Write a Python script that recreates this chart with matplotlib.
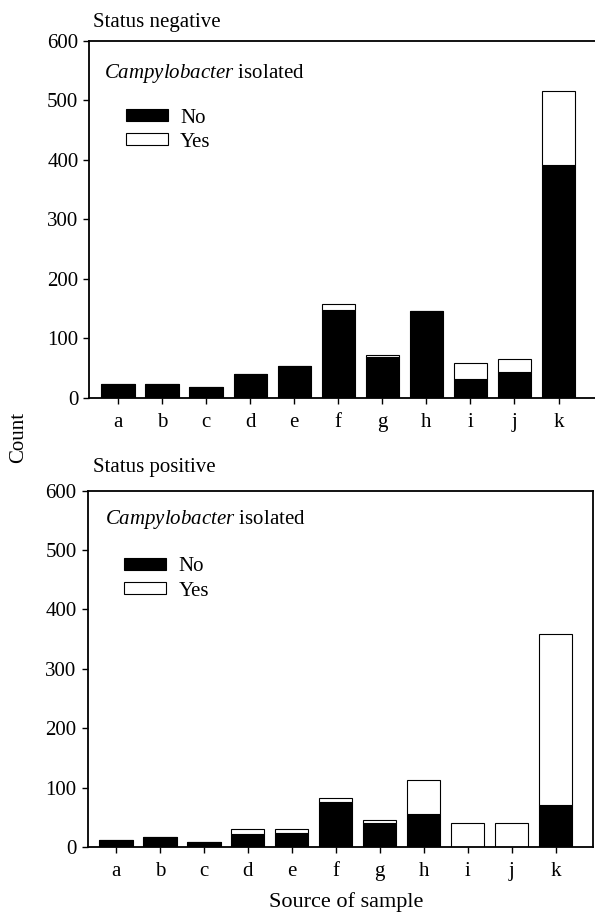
import matplotlib.pyplot as plt
from matplotlib.patches import Patch

plt.rcParams['font.family'] = ['Liberation Serif', 'DejaVu Serif']
plt.rcParams['mathtext.fontset'] = 'custom'
plt.rcParams['mathtext.rm'] = 'Liberation Serif'
plt.rcParams['mathtext.it'] = 'Liberation Serif:italic'

# data
sources = ['a', 'b', 'c', 'd', 'e', 'f', 'g', 'h', 'i', 'j', 'k']
neg_no = [23, 23, 18, 39, 54, 148, 69, 146, 31, 44, 391]
neg_yes = [0, 0, 0, 0, 0, 10, 2, 0, 28, 21, 124]
pos_no = [12, 16, 9, 22, 24, 76, 41, 55, 0, 0, 71]
pos_yes = [0, 0, 0, 8, 7, 6, 4, 58, 41, 40, 287]
yticks = [0, 100, 200, 300, 400, 500, 600]

fs = 15
fig = plt.figure(figsize=(5.95, 9.13), dpi=100)
ax1 = fig.add_axes([0.1504, 0.5644, 0.849, 0.391])
ax2 = fig.add_axes([0.1474, 0.0723, 0.8492, 0.3902])

# axes, no, yes, title, xlim, title pos, text pos, legend y
panels = [
    (ax1, neg_no, neg_yes, 'Status negative', (-0.65, 10.82), (0.007, 1.05), (0.029, 0.909), 0.81),
    (ax2, pos_no, pos_yes, 'Status positive', (-0.64, 10.85), (0.01, 1.064), (0.034, 0.918), 0.813),
]

x = list(range(len(sources)))
for ax, no, yes, title, xlim, tpos, cpos, ly in panels:
    ax.bar(x, no, width=0.76, color='black', edgecolor='black', linewidth=0.8)
    ax.bar(x, yes, width=0.76, bottom=no, color='white', edgecolor='black', linewidth=0.8)
    ax.set_xlim(*xlim)
    ax.set_ylim(0, 600)
    ax.set_xticks(x)
    ax.set_xticklabels(sources, fontsize=fs)
    ax.set_yticks(yticks)
    ax.set_yticklabels([str(t) for t in yticks], fontsize=fs)
    ax.tick_params(direction='out', length=4, width=1, pad=4)
    ax.tick_params(axis='x', pad=7)
    for s in ax.spines.values():
        s.set_linewidth(1.3)
    ax.text(tpos[0], tpos[1], title, transform=ax.transAxes, fontsize=fs, ha='left', va='center')
    ax.text(cpos[0], cpos[1], r'$\it{Campylobacter}$ isolated', transform=ax.transAxes,
            fontsize=fs, ha='left', va='center')
    handles = [Patch(facecolor='black', edgecolor='black', linewidth=0.8, label='No'),
               Patch(facecolor='white', edgecolor='black', linewidth=0.8, label='Yes')]
    ax.legend(handles=handles, loc='upper left', bbox_to_anchor=(0.072, ly),
              frameon=False, fontsize=fs, handlelength=2.0, handleheight=0.5,
              labelspacing=0.25, handletextpad=0.6, borderpad=0, borderaxespad=0)

ax1.spines['right'].set_visible(False)

fig.text(0.032, 0.521, 'Count', rotation=90, fontsize=fs, ha='center', va='center')
fig.text(0.581, 0.012, 'Source of sample', fontsize=16, ha='center', va='center')

fig.savefig('out.png', dpi=100)
